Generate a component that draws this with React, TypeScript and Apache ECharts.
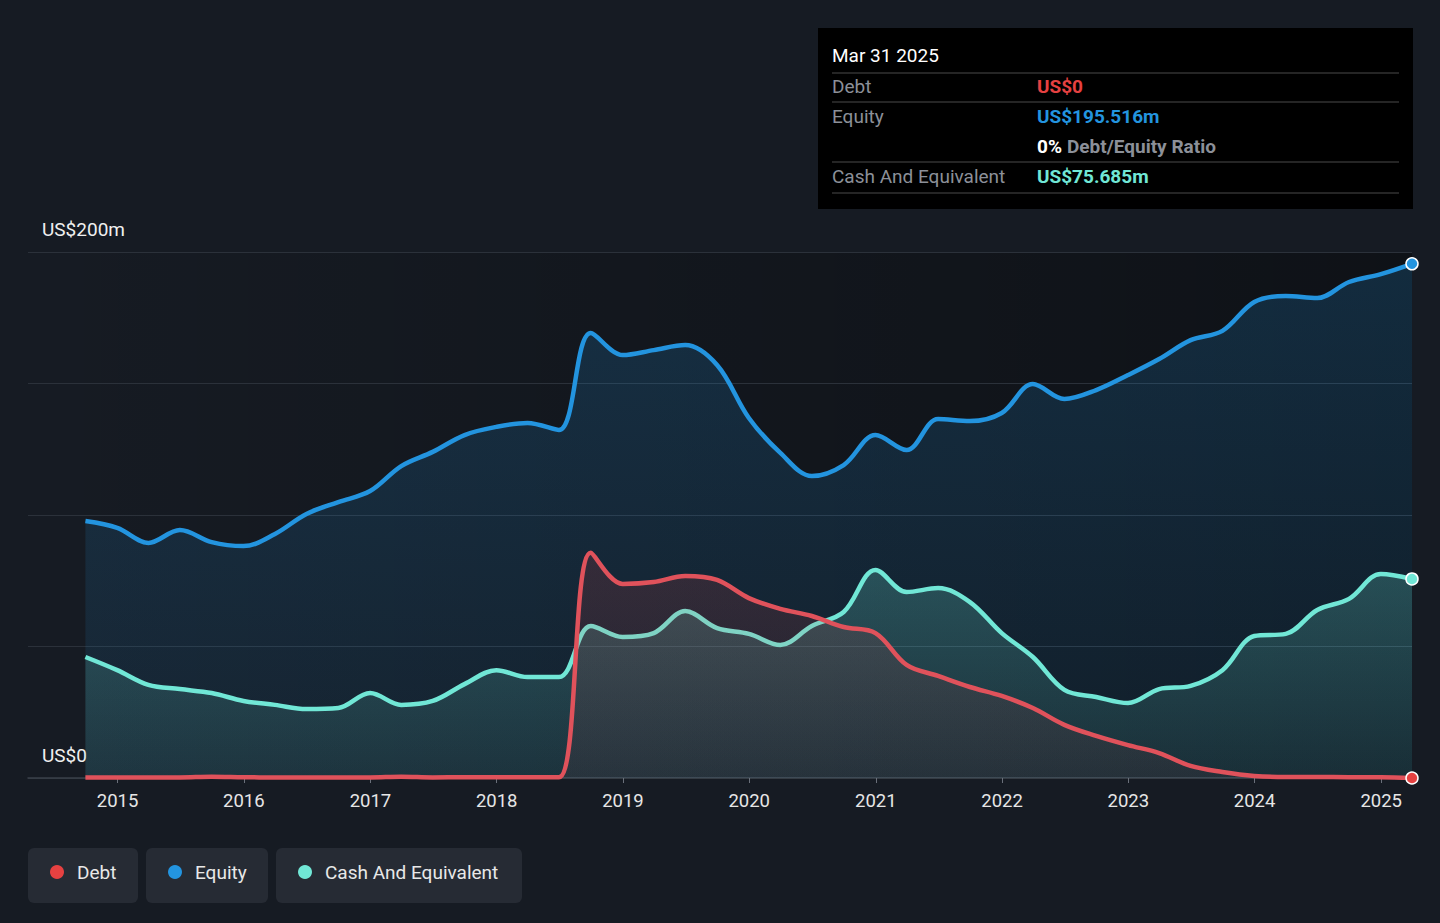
import { useEffect, useRef } from 'react';
import * as echarts from 'echarts';

const dates = [
  '2014-09-30', '2014-12-31',
  '2015-03-31', '2015-06-30', '2015-09-30', '2015-12-31',
  '2016-03-31', '2016-06-30', '2016-09-30', '2016-12-31',
  '2017-03-31', '2017-06-30', '2017-09-30', '2017-12-31',
  '2018-03-31', '2018-06-30', '2018-09-30', '2018-12-31',
  '2019-03-31', '2019-06-30', '2019-09-30', '2019-12-31',
  '2020-03-31', '2020-06-30', '2020-09-30', '2020-12-31',
  '2021-03-31', '2021-06-30', '2021-09-30', '2021-12-31',
  '2022-03-31', '2022-06-30', '2022-09-30', '2022-12-31',
  '2023-03-31', '2023-06-30', '2023-09-30', '2023-12-31',
  '2024-03-31', '2024-06-30', '2024-09-30', '2024-12-31',
  '2025-03-31',
];

// US$ millions
const debt = [
  0.2, 0.2, 0.2, 0.2, 0.5, 0.3, 0.2, 0.2, 0.2, 0.2,
  0.5, 0.2, 0.3, 0.3, 0.3, 0.3, 85.6, 73.8, 74.5, 76.8,
  75.3, 68.4, 64.3, 61.6, 57.4, 55.1, 43.0, 38.8, 34.6, 31.2,
  26.6, 20.2, 16.0, 12.5, 9.5, 4.6, 2.3, 0.8, 0.4, 0.4,
  0.3, 0.3, 0,
];
const equity = [
  97.7, 95.1, 89.4, 94.3, 89.7, 88.2, 92.8, 100.4, 104.9, 109.1,
  118.6, 124.0, 130.4, 133.5, 135.0, 132.3, 169.2, 160.8, 162.7, 164.6,
  157.0, 136.9, 123.6, 114.8, 119.0, 130.4, 124.7, 136.5, 135.7, 138.8,
  149.8, 144.1, 147.5, 153.2, 159.3, 166.5, 170.0, 181.0, 183.3, 182.5,
  188.6, 191.6, 195.516,
];
const cash = [
  46.0, 41.0, 35.4, 33.8, 32.3, 29.3, 27.8, 26.2, 26.6, 32.3,
  27.8, 29.3, 35.7, 41.0, 38.4, 38.4, 57.8, 53.6, 55.1, 63.5,
  57.0, 54.8, 50.6, 57.8, 63.1, 79.1, 70.7, 72.2, 66.9, 55.1,
  46.0, 33.5, 30.8, 28.5, 33.8, 35.0, 41.0, 54.0, 54.8, 63.9,
  68.1, 77.6, 75.685,
];

const yTickLabels: Record<number, string> = { 0: 'US$0', 200: 'US$200m' };

const legendItems = [
  { name: 'Debt', color: '#e64141', x: 28, w: 110 },
  { name: 'Equity', color: '#2394df', x: 146, w: 122 },
  { name: 'Cash And Equivalent', color: '#71e7d6', x: 276, w: 246 },
];

const FONT = 'Roboto, "Noto Sans", sans-serif';

const toPoints = (vals: number[], color: string) =>
  vals.map((v, i) => {
    const item: any = { value: [dates[i], v] };
    if (i === vals.length - 1) {
      item.symbol = 'circle';
      item.symbolSize = 12;
      item.itemStyle = { color, borderColor: '#ffffff', borderWidth: 1.5 };
    }
    return item;
  });

const App = () => {
  const chartRef = useRef<HTMLDivElement>(null);

  useEffect(() => {
    if (!chartRef.current) return;
    const chart = echarts.init(chartRef.current, null, { renderer: 'svg' });

    const tipX = 832;
    const valX = 1037;
    const sepLine = (y: number) => ({
      type: 'line',
      shape: { x1: tipX, y1: y, x2: 1399, y2: y },
      style: { stroke: '#4a4a4a', lineWidth: 1 },
    });
    const tipText = (x: number, y: number, text: string, fill: string, weight = 'normal', size = 19) => ({
      type: 'text',
      x,
      y,
      style: { text, fill, font: `${weight} ${size}px ${FONT}`, verticalAlign: 'middle' },
    });

    const legendGraphics: any[] = [];
    legendItems.forEach((it) => {
      legendGraphics.push({
        type: 'rect',
        shape: { x: it.x, y: 848, width: it.w, height: 55, r: 6 },
        style: { fill: '#262b34' },
      });
      legendGraphics.push({
        type: 'circle',
        shape: { cx: it.x + 29, cy: 872, r: 7 },
        style: { fill: it.color },
      });
      legendGraphics.push({
        type: 'text',
        x: it.x + 49,
        y: 872,
        style: { text: it.name, fill: '#e8e8e8', font: `19px ${FONT}`, verticalAlign: 'middle' },
      });
    });

    const option = {
      animation: false,
      backgroundColor: '#161b23',
      textStyle: { fontFamily: FONT },
      grid: {
        left: 28,
        right: 28,
        top: 252,
        bottom: 145,
        show: true,
        borderWidth: 0,
        backgroundColor: new echarts.graphic.LinearGradient(0, 0, 1, 0, [
          { offset: 0, color: 'rgba(0,0,0,0)' },
          { offset: 1, color: 'rgba(0,0,0,0.35)' },
        ]),
      },
      xAxis: {
        type: 'time',
        min: new Date(2014, 3, 17).getTime(),
        max: new Date(2025, 2, 31).getTime(),
        minInterval: 365 * 24 * 3600 * 1000,
        maxInterval: 366 * 24 * 3600 * 1000,
        axisLine: { lineStyle: { color: '#3a4049', width: 1.5 } },
        axisTick: { show: true, length: 5, lineStyle: { color: '#6a707a' } },
        splitLine: { show: false },
        axisLabel: {
          color: '#e6e6e6',
          fontSize: 18.5,
          margin: 13,
          showMinLabel: false,
          showMaxLabel: false,
          formatter: '{yyyy}',
        },
      },
      yAxis: {
        type: 'value',
        min: 0,
        max: 200,
        interval: 50,
        axisLine: { show: false },
        axisTick: { show: false },
        splitLine: { lineStyle: { color: '#2b313a', width: 1 } },
        axisLabel: {
          inside: true,
          margin: 14,
          color: '#f0f0f0',
          fontSize: 19,
          verticalAlign: 'bottom',
          padding: [0, 0, 13, 0],
          formatter: (v: number) => yTickLabels[v] ?? '',
        },
      },
      series: [
        {
          name: 'Equity',
          type: 'line',
          smooth: 0.35,
          symbol: 'none',
          data: toPoints(equity, '#2394df'),
          lineStyle: { color: '#2394df', width: 4.5 },
          itemStyle: { color: '#2394df' },
          areaStyle: {
            color: new echarts.graphic.LinearGradient(0, 0, 0, 1, [
              { offset: 0, color: 'rgba(35,148,223,0.28)' },
              { offset: 1, color: 'rgba(35,148,223,0.12)' },
            ]),
          },
          z: 2,
        },
        {
          name: 'Cash And Equivalent',
          type: 'line',
          smooth: 0.35,
          symbol: 'none',
          data: toPoints(cash, '#71e7d6'),
          lineStyle: { color: '#71e7d6', width: 4.5 },
          itemStyle: { color: '#71e7d6' },
          areaStyle: {
            color: new echarts.graphic.LinearGradient(0, 0, 0, 1, [
              { offset: 0, color: 'rgba(113,231,214,0.32)' },
              { offset: 1, color: 'rgba(113,231,214,0.12)' },
            ]),
          },
          z: 3,
        },
        {
          name: 'Debt',
          type: 'line',
          smooth: 0.35,
          symbol: 'none',
          data: toPoints(debt, '#e64141'),
          lineStyle: { color: '#e0525b', width: 4.5 },
          itemStyle: { color: '#e64141' },
          areaStyle: {
            color: new echarts.graphic.LinearGradient(0, 0, 0, 1, [
              { offset: 0, color: 'rgba(230,65,65,0.22)' },
              { offset: 1, color: 'rgba(230,65,65,0.08)' },
            ]),
          },
          z: 4,
        },
      ],
      graphic: [
        {
          type: 'rect',
          shape: { x: 818, y: 28, width: 595, height: 181 },
          style: { fill: '#000000' },
        },
        tipText(tipX, 55, 'Mar 31 2025', '#ffffff'),
        sepLine(73),
        tipText(tipX, 86, 'Debt', '#8c9099'),
        tipText(valX, 86, 'US$0', '#e64141', 'bold'),
        sepLine(102),
        tipText(tipX, 116, 'Equity', '#8c9099'),
        tipText(valX, 116, 'US$195.516m', '#2394df', 'bold'),
        tipText(valX, 146, '0%', '#ffffff', 'bold'),
        tipText(valX + 30, 146, 'Debt/Equity Ratio', '#8c9099', 'bold'),
        sepLine(162),
        tipText(tipX, 176, 'Cash And Equivalent', '#8c9099'),
        tipText(valX, 176, 'US$75.685m', '#71e7d6', 'bold'),
        sepLine(193),
        ...legendGraphics,
      ],
    };

    chart.setOption(option as any);

    const handleResize = () => chart.resize();
    window.addEventListener('resize', handleResize);
    return () => {
      window.removeEventListener('resize', handleResize);
      chart.dispose();
    };
  }, []);

  return <div ref={chartRef} style={{ width: '1440px', height: '923px', position: 'absolute', left: 0, top: 0 }} />;
};

export default App;
